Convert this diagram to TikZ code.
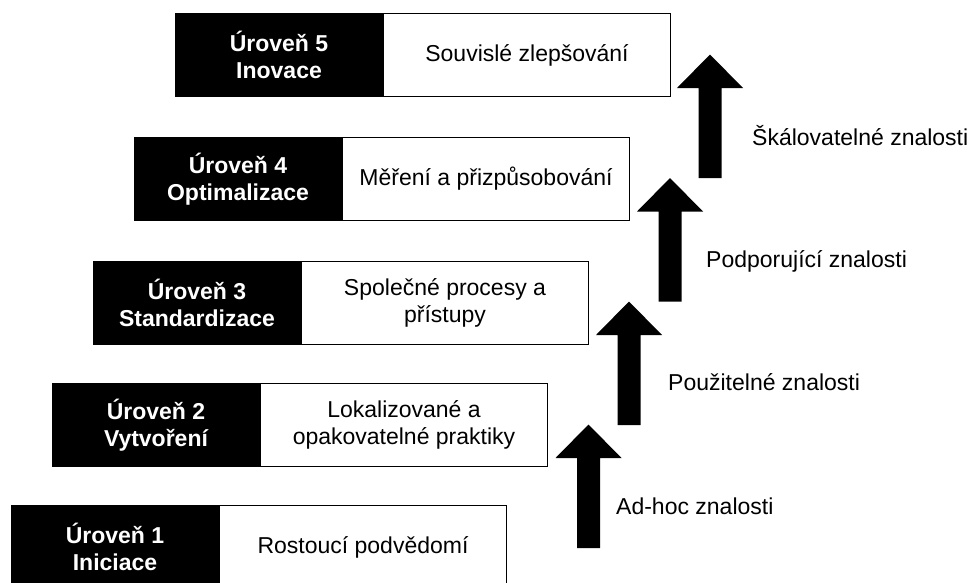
\documentclass[tikz,border=0pt]{standalone}
\usepackage{fontspec}
\setmainfont{Liberation Sans}
\begin{document}
\begin{tikzpicture}[x=1pt,y=-1pt,
  txt/.style={font=\fontsize{23}{27.5}\selectfont},
  lvl/.style={txt, draw=black, line width=1pt, fill=black, text=white,
    font=\fontsize{23}{27.5}\selectfont\bfseries,
    minimum width=207pt, minimum height=83pt, inner sep=0pt,
    align=center, anchor=north west},
  desc/.style={txt, draw=black, line width=1pt, fill=white,
    minimum width=287pt, minimum height=83pt, inner sep=0pt,
    align=center, anchor=north west},
  lab/.style={txt, anchor=base west, inner sep=0pt},
  pics/uparrow/.style={code={
    \fill[black] (-11.5,0) -- (-11.5,-90) -- (-33,-90) -- (0,-123.5)
      -- (33,-90) -- (11.5,-90) -- (11.5,0) -- cycle;}}
]
\useasboundingbox (0,0) rectangle (970,582);
\clip (0,0) rectangle (970,582);

% maturity levels, lowest first
\node[lvl]  (l1) at (11,505) {Úroveň 1\\Iniciace};
\node[desc] (d1) at (l1.north east) {Rostoucí podvědomí};

\node[lvl]  (l2) at (52,383) {Úroveň 2\\Vytvoření};
\node[desc] (d2) at (l2.north east) {Lokalizované a\\opakovatelné praktiky};

\node[lvl]  (l3) at (93,261) {Úroveň 3\\Standardizace};
\node[desc] (d3) at (l3.north east) {Společné procesy a\\přístupy};

\node[lvl]  (l4) at (134,137) {Úroveň 4\\Optimalizace};
\node[desc] (d4) at (l4.north east) {Měření a přizpůsobování};

\node[lvl]  (l5) at (175,13) {Úroveň 5\\Inovace};
\node[desc] (d5) at (l5.north east) {Souvislé zlepšování};

% knowledge steps between the levels
\pic at (588.5,548) {uparrow};
\node[lab] (k1) at (616,514) {Ad-hoc znalosti};

\pic at (629,425) {uparrow};
\node[lab] (k2) at (668,390) {Použitelné znalosti};

\pic at (670,301.5) {uparrow};
\node[lab] (k3) at (706,267) {Podporující znalosti};

\pic at (710,178) {uparrow};
\node[lab] (k4) at (752,145) {Škálovatelné znalosti};
\end{tikzpicture}
\end{document}
